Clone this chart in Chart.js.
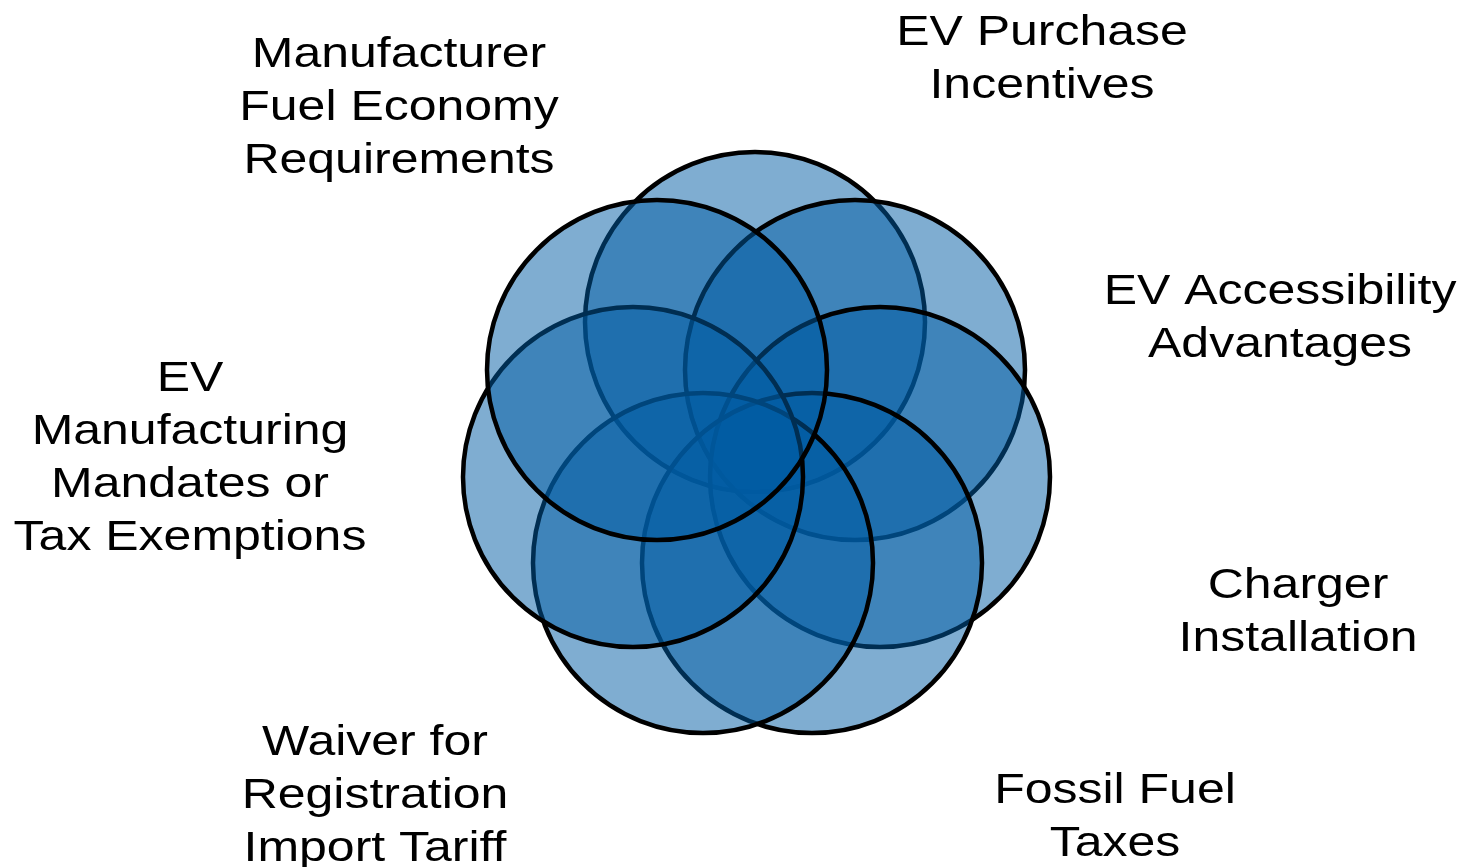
<!DOCTYPE html>
<html>
<head>
<meta charset="utf-8">
<script src="https://cdn.jsdelivr.net/npm/chart.js@4"></script>
<style>
  html, body { margin: 0; padding: 0; background: #fff; }
  #wrap { width: 1463px; height: 867px; }
</style>
</head>
<body>
<div id="wrap"><canvas id="venn" width="1463" height="867"></canvas></div>
<script>
// policy categories, clockwise from the top (drawing order matters for borders)
const categories = [
  ['EV Purchase', 'Incentives'],
  ['EV Accessibility', 'Advantages'],
  ['Charger', 'Installation'],
  ['Fossil Fuel', 'Taxes'],
  ['Waiver for', 'Registration', 'Import Tariff'],
  ['EV', 'Manufacturing', 'Mandates or', 'Tax Exemptions'],
  ['Manufacturer', 'Fuel Economy', 'Requirements'],
];

// circle centres (units relative to the cluster centre, y up)
const centerX = [-1, 99, 124, 56, -53, -123, -99];
const centerY = [127, 79, -28, -114, -114, -28, 79];
const circleR = [170, 170, 170, 170, 170, 170, 170];

// label anchor (centre of first text line), same units
const labelX = [286, 524, 542, 359, -381, -566, -357];
const labelY = [419, 160, -134, -339, -291, 73, 397];

const FILL   = 'rgba(0,91,163,0.5)';
const STROKE = '#000';
const FONT_PX = 42;
const LINE_H  = 53;
const STRETCH = 1.19;   // text in the source is drawn wider than normal

const labelPlugin = {
  id: 'vennLabels',
  afterDatasetsDraw(chart) {
    const { ctx, scales } = chart;
    ctx.save();
    ctx.fillStyle = '#000';
    ctx.font = `${FONT_PX}px "Liberation Sans", Arial, sans-serif`;
    ctx.textAlign = 'center';
    ctx.textBaseline = 'alphabetic';
    categories.forEach((lines, i) => {
      const px = scales.x.getPixelForValue(labelX[i]);
      const py = scales.y.getPixelForValue(labelY[i]);
      lines.forEach((line, j) => {
        ctx.save();
        ctx.translate(px, py + j * LINE_H + FONT_PX * 0.355);
        ctx.scale(STRETCH, 1);
        ctx.fillText(line, 0, 0);
        ctx.restore();
      });
    });
    ctx.restore();
  },
};

new Chart(document.getElementById('venn'), {
  type: 'bubble',
  data: {
    labels: categories.map(c => c.join(' ')),
    datasets: [{
      data: centerX.map((x, i) => ({ x, y: centerY[i], r: circleR[i] })),
      backgroundColor: FILL,
      borderColor: STROKE,
      borderWidth: 4.5,
      hoverRadius: 0,
      clip: false,
    }],
  },
  options: {
    responsive: false,
    animation: false,
    events: [],
    layout: { padding: 0, autoPadding: false },
    plugins: {
      legend: { display: false },
      tooltip: { enabled: false },
    },
    scales: {
      x: { type: 'linear', min: -756, max: 707, display: false },
      y: { type: 'linear', min: -418, max: 449, display: false },
    },
  },
  plugins: [labelPlugin],
});
</script>
</body>
</html>
